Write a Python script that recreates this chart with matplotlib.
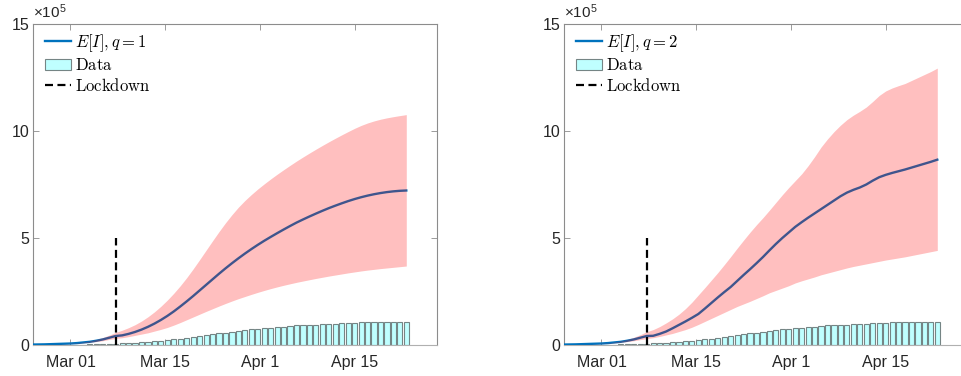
import numpy as np
import matplotlib
matplotlib.use('Agg')
import matplotlib.pyplot as plt
from matplotlib.patches import Patch
from matplotlib.lines import Line2D

plt.rcParams['font.family'] = ['Liberation Sans', 'DejaVu Sans']
plt.rcParams['mathtext.fontset'] = 'cm'

# ---------------- data ----------------
days = np.arange(59)                     # Feb 24 ... Apr 22
lockdown_day = 13
lockdown_height = 5                      # x 1e5
xtick_days = [6, 20.7, 35.3, 50]
xtick_labels = ['Mar 01', 'Mar 15', 'Apr 1', 'Apr 15']
yticks = [0, 5, 10, 15]
ytick_labels = ['0', '5', '10', '15']

# observed active infections (counts)
active_cases = [221, 311, 385, 588, 821, 1049, 1577, 1835, 2263, 2706, 3296, 3916,
                5061, 6387, 7985, 8514, 10590, 12839, 14955, 17750, 20603, 23073,
                26062, 28710, 33190, 37860, 42681, 46638, 50418, 54030, 57521, 62013,
                66414, 70065, 73880, 75528, 77635, 80572, 83049, 85388, 88274, 91246,
                93187, 94067, 95262, 96877, 98273, 100269, 102253, 103616, 104291,
                105418, 106607, 106962, 107771, 108257, 108237, 107709, 107699]

# model, q = 1 (units of 1e5)
mean_q1 = [0.02, 0.025, 0.03, 0.04, 0.05, 0.06, 0.07, 0.09, 0.12, 0.15, 0.2, 0.26, 0.34,
           0.42, 0.45, 0.52, 0.61, 0.72, 0.85, 1.00, 1.17, 1.36, 1.57, 1.80, 2.04, 2.29,
           2.55, 2.81, 3.07, 3.33, 3.58, 3.82, 4.05, 4.27, 4.48, 4.68, 4.87, 5.05, 5.225,
           5.395, 5.56, 5.72, 5.865, 6.005, 6.14, 6.27, 6.395, 6.51, 6.62, 6.725, 6.82,
           6.905, 6.98, 7.045, 7.10, 7.145, 7.18, 7.205, 7.22]
upper_q1 = [0.02, 0.025, 0.03, 0.04, 0.05, 0.065, 0.08, 0.10, 0.14, 0.19, 0.26, 0.35,
            0.46, 0.59, 0.69, 0.81, 0.95, 1.12, 1.32, 1.55, 1.81, 2.10, 2.42, 2.77, 3.15,
            3.56, 3.99, 4.43, 4.87, 5.30, 5.71, 6.09, 6.44, 6.75, 7.03, 7.29, 7.53, 7.76,
            7.98, 8.19, 8.395, 8.595, 8.785, 8.97, 9.15, 9.325, 9.495, 9.66, 9.82, 9.975,
            10.125, 10.26, 10.375, 10.47, 10.55, 10.615, 10.67, 10.72, 10.765]
lower_q1 = [0.02, 0.025, 0.03, 0.035, 0.045, 0.055, 0.065, 0.08, 0.10, 0.13, 0.16, 0.20,
            0.26, 0.31, 0.34, 0.39, 0.45, 0.51, 0.57, 0.65, 0.73, 0.82, 0.93, 1.05, 1.18,
            1.31, 1.44, 1.57, 1.695, 1.82, 1.94, 2.055, 2.165, 2.265, 2.365, 2.46, 2.55,
            2.635, 2.715, 2.79, 2.86, 2.928, 2.99, 3.05, 3.11, 3.165, 3.22, 3.27, 3.32,
            3.37, 3.415, 3.46, 3.50, 3.535, 3.57, 3.60, 3.63, 3.66, 3.69]

# model, q = 2 (units of 1e5)
mean_q2 = [0.02, 0.025, 0.03, 0.04, 0.05, 0.06, 0.07, 0.09, 0.12, 0.15, 0.2, 0.26, 0.34,
           0.42, 0.43, 0.52, 0.63, 0.78, 0.94, 1.10, 1.27, 1.45, 1.70, 1.96, 2.22, 2.47,
           2.71, 2.99, 3.27, 3.54, 3.82, 4.11, 4.42, 4.72, 5.00, 5.26, 5.52, 5.74, 5.95,
           6.15, 6.35, 6.55, 6.75, 6.95, 7.12, 7.25, 7.36, 7.50, 7.68, 7.84, 7.95, 8.04,
           8.12, 8.20, 8.29, 8.38, 8.47, 8.56, 8.66]
upper_q2 = [0.02, 0.025, 0.03, 0.04, 0.05, 0.065, 0.08, 0.10, 0.14, 0.19, 0.26, 0.36,
            0.48, 0.62, 0.72, 0.86, 1.03, 1.22, 1.44, 1.70, 2.00, 2.34, 2.68, 3.03, 3.38,
            3.75, 4.13, 4.52, 4.90, 5.27, 5.62, 5.95, 6.30, 6.66, 7.02, 7.36, 7.68, 8.00,
            8.38, 8.80, 9.25, 9.63, 9.97, 10.27, 10.53, 10.74, 10.92, 11.12, 11.38, 11.66,
            11.87, 12.01, 12.12, 12.22, 12.36, 12.50, 12.64, 12.78, 12.94]
lower_q2 = [0.02, 0.025, 0.03, 0.035, 0.045, 0.055, 0.065, 0.08, 0.10, 0.13, 0.16, 0.20,
            0.25, 0.30, 0.34, 0.40, 0.47, 0.54, 0.63, 0.72, 0.83, 0.96, 1.10, 1.24, 1.38,
            1.52, 1.66, 1.80, 1.92, 2.04, 2.17, 2.30, 2.44, 2.55, 2.66, 2.77, 2.90, 3.00,
            3.09, 3.18, 3.28, 3.36, 3.44, 3.52, 3.60, 3.67, 3.73, 3.79, 3.85, 3.91, 3.97,
            4.02, 4.07, 4.12, 4.18, 4.24, 4.30, 4.36, 4.42]

panels = [
    (r'$E[I], q=1$', mean_q1, upper_q1, lower_q1),
    (r'$E[I], q=2$', mean_q2, upper_q2, lower_q2),
]

# ---------------- styling ----------------
LINE_BLUE = '#0072BD'
BAR_FACE = '#BFFFFF'
BAR_EDGE = '#758585'
AX_GRAY = '#8C8C8C'
TXT = '#262626'

W, H = 961, 376
fig = plt.figure(figsize=(W / 100, H / 100), dpi=100)


def px_axes(left, top, right, bottom):
    return fig.add_axes([left / W, 1 - bottom / H, (right - left) / W, (bottom - top) / H])


axes = [px_axes(33.3, 24, 437.3, 345), px_axes(564.3, 24, 968.3, 345)]

for ax, (label, mean, upper, lower) in zip(axes, panels):
    ax.bar(days, np.array(active_cases) / 1e5, width=0.8, color=BAR_FACE,
           edgecolor=BAR_EDGE, linewidth=0.8, zorder=2)
    ax.plot(days, mean, color=LINE_BLUE, lw=1.7, zorder=3)
    ax.fill_between(days, lower, upper, color='red', alpha=0.25, lw=0, zorder=4)
    ax.plot([lockdown_day, lockdown_day], [0, lockdown_height], color='black',
            ls=(0, (3.6, 2.0)), lw=1.6, zorder=5)

    ax.set_xlim(0.24, 62.8)
    ax.set_ylim(0, 15)
    ax.set_xticks(xtick_days)
    ax.set_xticklabels(xtick_labels)
    ax.set_yticks(yticks)
    ax.set_yticklabels(ytick_labels)
    ax.tick_params(direction='in', length=4, width=0.6, color=AX_GRAY,
                   top=True, right=True, labelsize=11.5, labelcolor=TXT)
    ax.tick_params(axis='x', pad=7)
    ax.tick_params(axis='y', pad=3)
    for s in ax.spines.values():
        s.set_color(AX_GRAY)
        s.set_linewidth(0.8)
    ax.spines['bottom'].set_color('#B0B0B0')

    ax.text(0, 1.01, r'×$\mathregular{10^{5}}$', transform=ax.transAxes,
            ha='left', va='bottom', fontsize=11, color=TXT)

    handles = [
        Line2D([], [], color=LINE_BLUE, lw=1.7),
        Patch(facecolor=BAR_FACE, edgecolor=BAR_EDGE, linewidth=0.8),
        Line2D([], [], color='black', ls=(0, (3.6, 2.0)), lw=1.6),
    ]
    labels = [label, r'$\mathrm{Data}$', r'$\mathrm{Lockdown}$']
    ax.legend(handles, labels, loc='upper left', bbox_to_anchor=(0.02, 0.985),
              frameon=False, fontsize=12, handlelength=1.6, handletextpad=0.2,
              labelspacing=0.2, borderaxespad=0, borderpad=0.2)

fig.savefig('out.png', dpi=100)
